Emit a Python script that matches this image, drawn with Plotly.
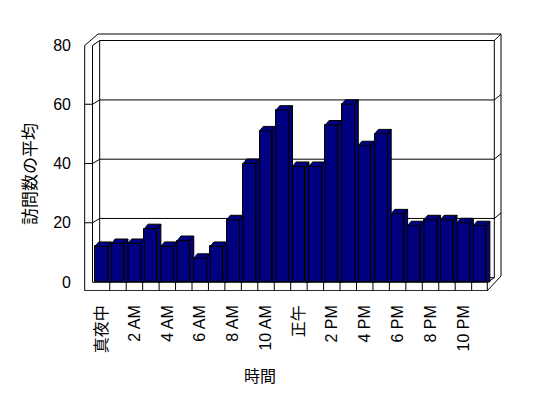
import plotly.graph_objects as go

# ---- data ----
hours = list(range(24))
visits = [12, 13, 13, 18, 12, 14, 8, 12, 21, 40, 51, 58,
          39, 39, 53, 60, 46, 50, 23, 19, 21, 21, 20, 19]
tick_idx = [0, 2, 4, 6, 8, 10, 12, 14, 16, 18, 20, 22]
tick_text = ["真夜中", "2 AM", "4 AM", "6 AM", "8 AM", "10 AM",
             "正午", "2 PM", "4 PM", "6 PM", "8 PM", "10 PM"]
y_ticks = [0, 20, 40, 60, 80]
x_title = "時間"
y_title = "訪問数の平均"

# ---- styling / geometry ----
NAVY = "#000080"
FONT = "Liberation Sans, Noto Sans CJK JP"
CJK = "Noto Sans CJK JP"
BAR_W = 0.78
X0PX, CELL = 93.3, 16.45      # pixel of category -0.5, pixels per category
V0PX, VPX = 282.0, 2.9625     # pixel of value 0, pixels per value unit
L, R, T, B = 84, 502, 33, 291  # plot area in pixels


def xd(px):
    return (px - X0PX) / CELL - 0.5


def vd(py):
    return (V0PX - py) / VPX


DX = xd(X0PX + 3.6) - xd(X0PX)   # depth offset (category units)
DY = 4.5 / VPX                   # depth offset (value units)

fig = go.Figure()

# side and top faces of the columns
sx, sy = [], []
half = BAR_W / 2
for i, v in zip(hours, visits):
    x0, x1 = i - half, i + half
    sx += [x1, x1 + DX, x1 + DX, x1, x1, None]
    sy += [0, 0, v + DY, v, 0, None]
    sx += [x0, x0 + DX, x1 + DX, x1, x0, None]
    sy += [v, v + DY, v + DY, v, v, None]
fig.add_trace(go.Scatter(x=sx, y=sy, mode="lines", fill="toself",
                         fillcolor=NAVY, line=dict(color="black", width=1),
                         hoverinfo="skip", showlegend=False))

# front faces
fig.add_trace(go.Bar(x=hours, y=visits, width=BAR_W,
                     marker=dict(color=NAVY, line=dict(color="black", width=1)),
                     hoverinfo="skip", showlegend=False))

shapes = []


def path(pts, fill=None):
    d = "M " + " L ".join(f"{xd(a):.4f},{vd(b):.4f}" for a, b in pts)
    if fill:
        d += " Z"
    return dict(type="path", path=d, xref="x", yref="y", layer="below",
                line=dict(color="black", width=1),
                fillcolor=fill if fill else "rgba(0,0,0,0)")


# outer silhouette of walls + floor
shapes.append(path([(84.7, 45.5), (98, 34), (501, 34), (501, 276),
                    (487.3, 290.7), (84.7, 290.7)], fill="white"))
# inner edges
shapes.append(path([(92.5, 45.5), (99.7, 40.5), (494.3, 40.5), (501, 34)]))
shapes.append(path([(92.5, 45.5), (92.5, 282.3)]))
shapes.append(path([(99.7, 40.5), (99.7, 277.7)]))
shapes.append(path([(494.3, 40.5), (494.3, 277.7)]))
shapes.append(path([(99.7, 277.7), (494.3, 277.7)]))
# floor
shapes.append(path([(92.5, 282.3), (487.3, 282.3), (494.3, 277.7)]))
shapes.append(path([(487.3, 282.3), (487.3, 290.7)]))
for k in range(1, len(hours)):
    xp = X0PX + CELL * k
    shapes.append(path([(xp, 282.3), (xp, 290.7)]))
# gridlines: front tick, wall diagonal, back wall line, right wall diagonal
for v in y_ticks[1:-1]:
    yf = V0PX - VPX * v
    yb = yf - 4.3
    shapes.append(path([(84.7, yf), (92.5, yf), (99.7, yb), (494.3, yb),
                        (501, yb - 5.5)]))

fig.update_layout(
    width=548, height=398, autosize=False,
    margin=dict(l=L, r=548 - R, t=T, b=398 - B),
    paper_bgcolor="white", plot_bgcolor="white",
    showlegend=False, bargap=0,
    shapes=shapes,
    font=dict(family=FONT, size=15, color="black"),
    xaxis=dict(range=[xd(L), xd(R)], tickmode="array", tickvals=tick_idx,
               ticktext=tick_text, tickangle=-90,
               showgrid=False, zeroline=False, showline=False, ticks="",
               ticklabelstandoff=10, fixedrange=True,
               tickfont=dict(family=FONT, size=16, color="black")),
    yaxis=dict(range=[vd(B), vd(T)], tickmode="array", tickvals=y_ticks,
               ticktext=[str(v) for v in y_ticks], showgrid=False,
               zeroline=False, showline=False, ticks="",
               ticklabelstandoff=12, fixedrange=True,
               tickfont=dict(family=FONT, size=16, color="black")),
    annotations=[
        dict(text=x_title, xref="paper", yref="paper",
             x=(260 - L) / (R - L), y=(B - 374.5) / (B - T),
             xanchor="center", yanchor="middle", showarrow=False,
             font=dict(family=CJK, size=16, color="black")),
        dict(text=y_title, xref="paper", yref="paper", textangle=-90,
             x=(28 - L) / (R - L), y=(B - 174) / (B - T),
             xanchor="center", yanchor="middle", showarrow=False,
             font=dict(family=CJK, size=17, color="black")),
    ],
)

fig.write_html("out.html")
